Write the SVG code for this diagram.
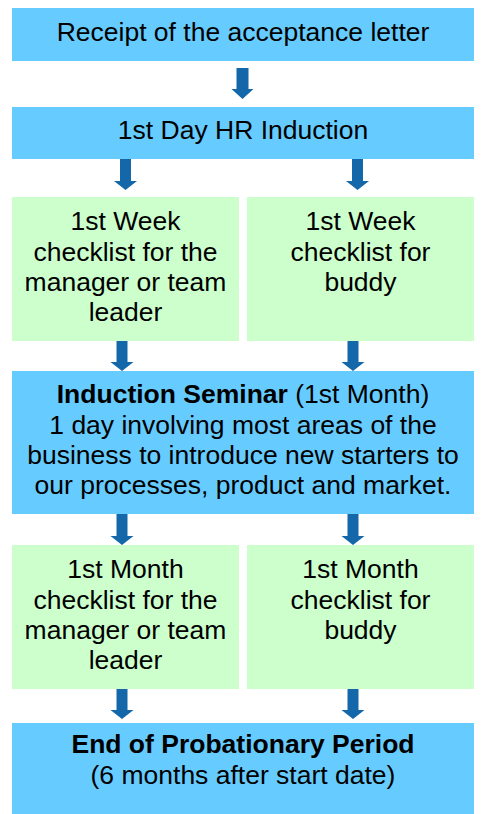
<svg xmlns="http://www.w3.org/2000/svg" width="481" height="814" viewBox="0 0 481 814">
<style>
.blue{fill:#66CCFF}
.green{fill:#CCFFCC}
.arr{fill:#1467A8}
text{font-family:"Liberation Sans",Arial,sans-serif;font-size:26.5px;fill:#000;text-anchor:middle}
.b{font-weight:bold}
</style>
<rect width="481" height="814" fill="#fff"/>
<g id="connectors">
<polygon class="arr" points="236.5,68 248.5,68 248.5,89 253.5,89 242.5,99 231.5,89 236.5,89"/>
<polygon class="arr" points="120,159 131,159 131,181 137,181 125.5,190 114,181 120,181"/>
<polygon class="arr" points="352,159 363,159 363,181 369,181 357.5,190 346,181 352,181"/>
<polygon class="arr" points="116.5,341 127.5,341 127.5,362 133.5,362 122,371 110.5,362 116.5,362"/>
<polygon class="arr" points="347.5,341 358.5,341 358.5,362 364.5,362 353,371 341.5,362 347.5,362"/>
<polygon class="arr" points="116.5,514 127.5,514 127.5,536 133.5,536 122,545 110.5,536 116.5,536"/>
<polygon class="arr" points="347.5,514 358.5,514 358.5,536 364.5,536 353,545 341.5,536 347.5,536"/>
<polygon class="arr" points="116.5,689 127.5,689 127.5,710 133.5,710 122,719 110.5,710 116.5,710"/>
<polygon class="arr" points="347.5,689 358.5,689 358.5,710 364.5,710 353,719 341.5,710 347.5,710"/>
</g>
<g id="receipt">
<rect class="blue" x="12" y="8" width="462" height="53"/>
<text x="243" y="41">Receipt of the acceptance letter</text>
</g>
<g id="hr-induction">
<rect class="blue" x="12" y="107" width="462" height="52"/>
<text x="243" y="139">1st Day HR Induction</text>
</g>
<g id="week-manager">
<rect class="green" x="12" y="197" width="227" height="144"/>
<text x="125.5" y="230">1st Week</text>
<text x="125.5" y="260.5">checklist for the</text>
<text x="125.5" y="291">manager or team</text>
<text x="125.5" y="321">leader</text>
</g>
<g id="week-buddy">
<rect class="green" x="247" y="197" width="227" height="144"/>
<text x="360.5" y="230">1st Week</text>
<text x="360.5" y="260.5">checklist for</text>
<text x="360.5" y="291">buddy</text>
</g>
<g id="seminar">
<rect class="blue" x="12" y="371" width="462" height="143"/>
<text x="243" y="403"><tspan class="b">Induction Seminar</tspan> (1st Month)</text>
<text x="243" y="433.5">1 day involving most areas of the</text>
<text x="243" y="464">business to introduce new starters to</text>
<text x="243" y="494">our processes, product and market.</text>
</g>
<g id="month-manager">
<rect class="green" x="12" y="545" width="227" height="144"/>
<text x="125.5" y="578">1st Month</text>
<text x="125.5" y="608.5">checklist for the</text>
<text x="125.5" y="639">manager or team</text>
<text x="125.5" y="669">leader</text>
</g>
<g id="month-buddy">
<rect class="green" x="247" y="545" width="227" height="144"/>
<text x="360.5" y="578">1st Month</text>
<text x="360.5" y="608.5">checklist for</text>
<text x="360.5" y="639">buddy</text>
</g>
<g id="end-probation">
<rect class="blue" x="12" y="723" width="462" height="91"/>
<text x="243" y="753" class="b">End of Probationary Period</text>
<text x="243" y="783.5">(6 months after start date)</text>
</g>
</svg>
